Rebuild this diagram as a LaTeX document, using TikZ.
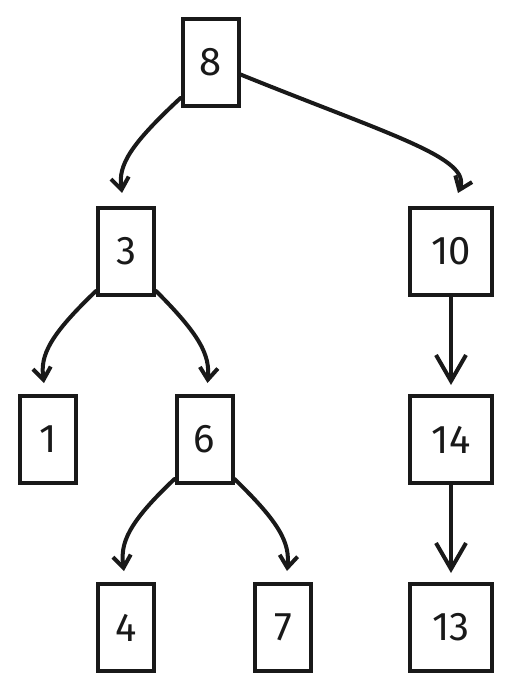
\documentclass[tikz,border=0pt]{standalone}
\usepackage{fontspec}
\setmainfont{Fira Sans}
\usetikzlibrary{arrows.meta}
\begin{document}
\begin{tikzpicture}[x=1pt,y=-1pt,
  box/.style={draw=black!90, line width=4pt, minimum height=87pt, inner sep=0pt,
    font=\fontsize{40}{42}\selectfont, text=black!90},
  narrow/.style={box, minimum width=56pt},
  wide/.style={box, minimum width=82pt},
  curvearr/.style={draw=black!90, line width=4pt, line cap=round,
    -{Straight Barb[length=12pt,width=18pt,line width=4pt]}},
  straightarr/.style={draw=black!90, line width=4pt, line cap=round,
    -{Straight Barb[length=26pt,width=30pt,line width=4pt]}}]
\useasboundingbox (0,0) rectangle (513,692);
\node[narrow] (n8) at (210.5,62.5) {8};
\node[narrow] (n3) at (126,251.5) {3};
\node[wide] (n10) at (451,251.5) {10};
\node[narrow] (n1) at (48,439.5) {1};
\node[narrow] (n6) at (204.5,439.5) {6};
\node[wide] (n14) at (451,439.5) {14};
\node[narrow] (n4) at (126,627.5) {4};
\node[narrow] (n7) at (283,627.5) {7};
\node[wide] (n13) at (451,627.5) {13};
\draw[curvearr] ([yshift=10pt]n8.south west) .. controls (130,145) and (118,165) .. ([xshift=-4pt,yshift=13pt]n3.north);
\draw[curvearr] ([yshift=-12pt]n8.east) .. controls (390,135) and (472,158) .. ([xshift=7pt,yshift=13pt]n10.north);
\draw[curvearr] ([yshift=6pt]n3.south west) .. controls (50,335) and (40,355) .. ([xshift=-4pt,yshift=11pt]n1.north);
\draw[curvearr] ([yshift=6pt]n3.south east) .. controls (200,335) and (210,355) .. ([xshift=3pt,yshift=11pt]n6.north);
\draw[curvearr] ([yshift=6pt]n6.south west) .. controls (128,523) and (120,543) .. ([xshift=-2pt,yshift=11pt]n4.north);
\draw[curvearr] ([yshift=6pt]n6.south east) .. controls (280,523) and (290,543) .. ([xshift=4pt,yshift=11pt]n7.north);
\draw[straightarr] (n10.south) -- ([yshift=9pt]n14.north);
\draw[straightarr] (n14.south) -- ([yshift=9pt]n13.north);
\end{tikzpicture}
\end{document}
